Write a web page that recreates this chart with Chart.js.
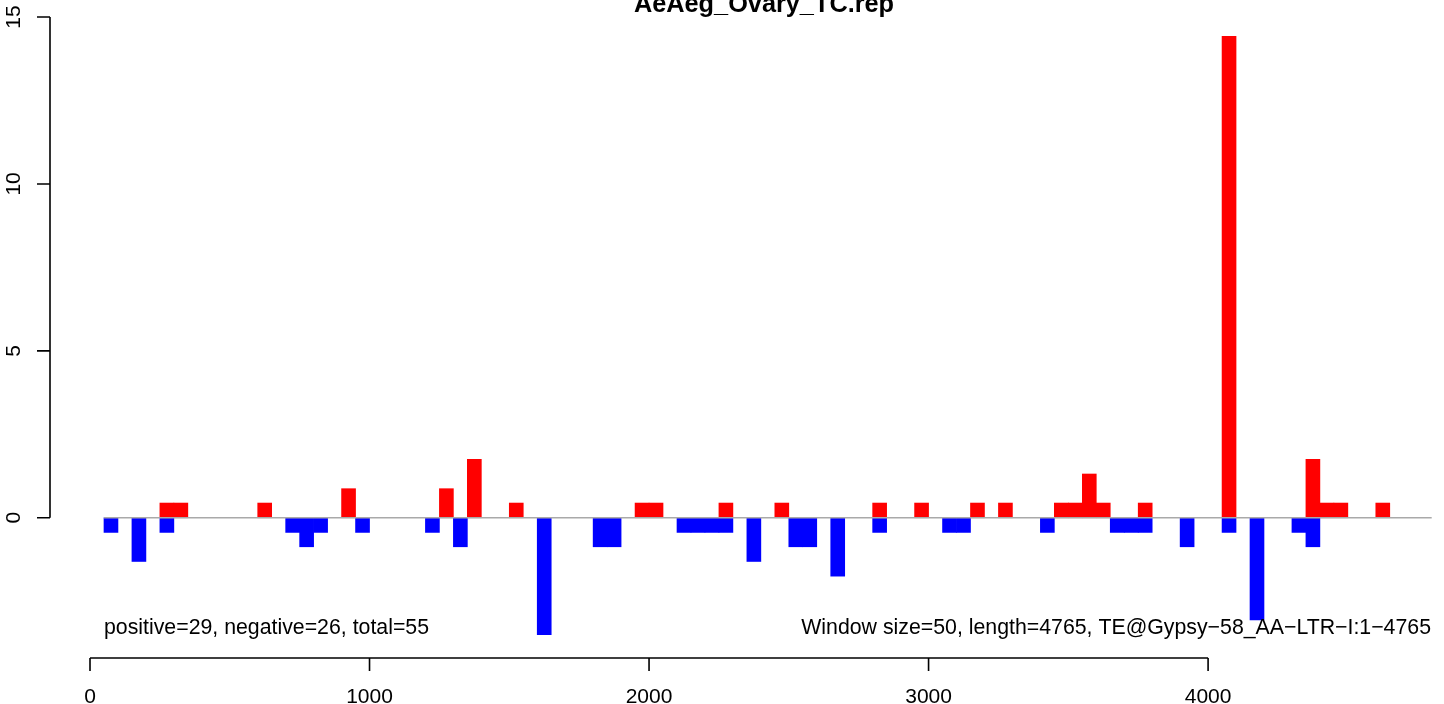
<!DOCTYPE html>
<html>
<head>
<meta charset="utf-8">
<title>AeAeg_Ovary_TC.rep</title>
<script src="https://cdn.jsdelivr.net/npm/chart.js@4"></script>
<style>
  html, body { margin: 0; padding: 0; background: #fff; }
  #wrap { width: 1444px; height: 704px; position: relative; }
</style>
</head>
<body>
<div id="wrap"><canvas id="covChart"></canvas></div>
<script>
// window starts (bp) and normalised counts
const binSize = 50;
const posStarts = [250, 300, 600, 900, 1250, 1350, 1500, 1950, 2000, 2250, 2450, 2800, 2950, 3150, 3250,
                   3450, 3500, 3550, 3600, 3750, 4050, 4350, 4400, 4450, 4600];
const posValues = [0.44, 0.44, 0.44, 0.87, 0.87, 1.75, 0.44, 0.44, 0.44, 0.44, 0.44, 0.44, 0.44, 0.44, 0.44,
                   0.44, 0.44, 1.31, 0.44, 0.44, 14.42, 1.75, 0.44, 0.44, 0.44];
const negStarts = [50, 150, 250, 700, 750, 800, 950, 1200, 1300, 1600, 1800, 1850, 2100, 2150, 2200, 2250,
                   2350, 2500, 2550, 2650, 2800, 3050, 3100, 3400, 3650, 3700, 3750, 3900, 4050, 4150, 4300, 4350];
const negValues = [-0.44, -1.31, -0.44, -0.44, -0.87, -0.44, -0.44, -0.44, -0.87, -3.50, -0.87, -0.87, -0.44, -0.44, -0.44, -0.44,
                   -1.31, -0.87, -0.87, -1.75, -0.44, -0.44, -0.44, -0.44, -0.44, -0.44, -0.44, -0.87, -0.44, -3.06, -0.44, -0.87];
const zeroLine = [50, 4800];

const xTicks = [0, 1000, 2000, 3000, 4000];
const yTicks = [0, 5, 10, 15];

const titleText = 'AeAeg_Ovary_TC.rep';
const leftNote = 'positive=29, negative=26, total=55';
const rightNote = 'Window size=50, length=4765, TE@Gypsy\u221258_AA\u2212LTR\u2212I:1\u22124765';

const FONT = '"Liberation Sans", Arial, Helvetica, sans-serif';

function toPoints(starts, values) {
    return starts.map((s, i) => ({ x: s + binSize / 2, y: values[i] }));
}

// R-style axes and texts, drawn through the chart's own scales
const rAxes = {
    id: 'rAxes',
    afterDraw(chart) {
        const ctx = chart.ctx;
        const xs = chart.scales.x;
        const ys = chart.scales.y;
        ctx.save();
        ctx.strokeStyle = '#000';
        ctx.fillStyle = '#000';
        ctx.lineWidth = 1.6;

        // y axis
        const yAxisX = 50;
        ctx.beginPath();
        ctx.moveTo(yAxisX, ys.getPixelForValue(yTicks[0]));
        ctx.lineTo(yAxisX, ys.getPixelForValue(yTicks[yTicks.length - 1]));
        yTicks.forEach(t => {
            const py = ys.getPixelForValue(t);
            ctx.moveTo(yAxisX, py);
            ctx.lineTo(yAxisX - 13, py);
        });
        ctx.stroke();
        ctx.font = '21px ' + FONT;
        ctx.textAlign = 'center';
        ctx.textBaseline = 'alphabetic';
        yTicks.forEach(t => {
            ctx.save();
            ctx.translate(20, ys.getPixelForValue(t));
            ctx.rotate(-Math.PI / 2);
            ctx.fillText(String(t), 0, 0);
            ctx.restore();
        });

        // x axis
        const xAxisY = 658;
        ctx.beginPath();
        ctx.moveTo(xs.getPixelForValue(xTicks[0]), xAxisY);
        ctx.lineTo(xs.getPixelForValue(xTicks[xTicks.length - 1]), xAxisY);
        xTicks.forEach(t => {
            const px = xs.getPixelForValue(t);
            ctx.moveTo(px, xAxisY);
            ctx.lineTo(px, xAxisY + 13);
        });
        ctx.stroke();
        xTicks.forEach(t => {
            ctx.fillText(String(t), xs.getPixelForValue(t), 703);
        });

        // notes
        ctx.font = '21.3px ' + FONT;
        ctx.textAlign = 'left';
        ctx.fillText(leftNote, 104, 634);
        ctx.textAlign = 'right';
        ctx.fillText(rightNote, 1431, 634);

        // title
        ctx.font = 'bold 25.3px ' + FONT;
        ctx.textAlign = 'center';
        ctx.fillText(titleText, 764, 12);
        ctx.restore();
    }
};

const covCtx = document.getElementById('covChart').getContext('2d');
const covChart = new Chart(covCtx, {
    type: 'bar',
    data: {
        datasets: [
            {
                type: 'line',
                label: 'zero',
                data: zeroLine.map(x => ({ x: x, y: 0 })),
                borderColor: '#a9a9a9',
                borderWidth: 1.6,
                pointRadius: 0,
                order: 0
            },
            {
                label: 'positive',
                data: toPoints(posStarts, posValues),
                backgroundColor: '#ff0000',
                borderWidth: 0,
                grouped: false,
                barPercentage: 1,
                categoryPercentage: 1,
                order: 1
            },
            {
                label: 'negative',
                data: toPoints(negStarts, negValues),
                backgroundColor: '#0000ff',
                borderWidth: 0,
                grouped: false,
                barPercentage: 1,
                categoryPercentage: 1,
                order: 2
            }
        ]
    },
    options: {
        responsive: true,
        maintainAspectRatio: false,
        animation: false,
        devicePixelRatio: 1,
        layout: { padding: 0 },
        plugins: {
            legend: { display: false },
            tooltip: { enabled: false },
            title: { display: false }
        },
        scales: {
            x: { type: 'linear', min: -322, max: 4844, offset: false, display: false },
            y: { type: 'linear', min: -5.58, max: 15.51, display: false }
        }
    },
    plugins: [rAxes]
});
</script>
</body>
</html>
